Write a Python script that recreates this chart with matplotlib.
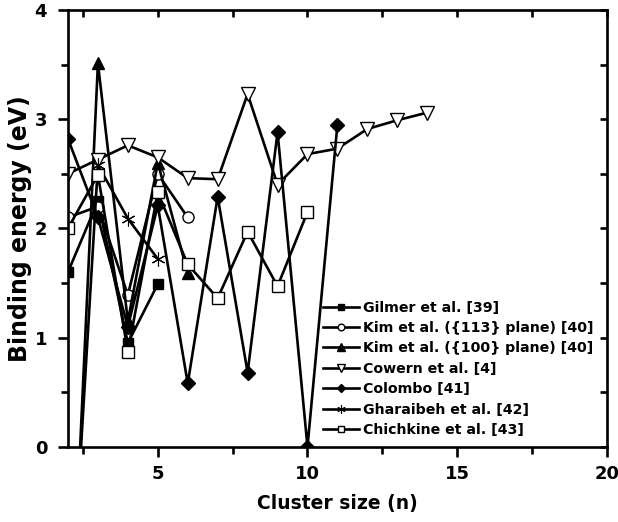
import matplotlib
matplotlib.use("Agg")
import matplotlib.pyplot as plt
from matplotlib.ticker import MultipleLocator

plt.rcParams['font.family'] = ['DejaVu Sans']
plt.rcParams['font.weight'] = 'bold'

# cluster sizes and binding energies (eV)
gilmer_n = [2, 3, 4, 5]
gilmer_e = [1.6, 2.25, 0.95, 1.49]

kim113_n = [2, 3, 4, 5, 6]
kim113_e = [2.1, 2.2, 1.39, 2.5, 2.1]

kim100_n = [2, 3, 4, 5, 6]
kim100_e = [-2.4, 3.51, 1.15, 2.6, 1.59]

cowern_n = [2, 3, 4, 5, 6, 7, 8, 9, 10, 11, 12, 13, 14]
cowern_e = [2.5, 2.63, 2.76, 2.65, 2.46, 2.45, 3.23, 2.4, 2.68, 2.73, 2.91, 2.99, 3.06]

colombo_n = [2, 3, 4, 5, 6, 7, 8, 9, 10, 11]
colombo_e = [2.82, 2.1, 1.1, 2.21, 0.58, 2.29, 0.68, 2.88, 0.0, 2.95]

gharaibeh_n = [2, 3, 4, 5]
gharaibeh_e = [-2.0, 2.58, 2.09, 1.72]

chichkine_n = [2, 3, 4, 5, 6, 7, 8, 9, 10]
chichkine_e = [2.0, 2.49, 0.87, 2.33, 1.67, 1.36, 1.97, 1.47, 2.15]

fig = plt.figure(figsize=(6.18, 5.22), dpi=100)
ax = fig.add_axes([0.110, 0.144, 0.872, 0.837])

lw = 1.9
ms = 8
ax.plot(gilmer_n, gilmer_e, '-s', color='black', lw=lw, ms=ms-1, mfc='black', label='Gilmer et al. [39]')
ax.plot(kim113_n, kim113_e, '-o', color='black', lw=lw, ms=ms, mfc='white', label='Kim et al. ({113} plane) [40]')
ax.plot(kim100_n, kim100_e, '-^', color='black', lw=lw, ms=ms+1, mfc='black', label='Kim et al. ({100} plane) [40]')
ax.plot(cowern_n, cowern_e, '-v', color='black', lw=lw, ms=ms+2, mfc='white', label='Cowern et al. [4]')
ax.plot(colombo_n, colombo_e, '-D', color='black', lw=lw, ms=ms-1, mfc='black', label='Colombo [41]')
ax.plot(gharaibeh_n, gharaibeh_e, '-', color='black', lw=lw, marker=(6, 2, 0), ms=ms+2, mew=0.8, label='Gharaibeh et al. [42]')
ax.plot(chichkine_n, chichkine_e, '-s', color='black', lw=lw, ms=ms, mfc='white', label='Chichkine et al. [43]')

ax.set_xlim(2, 20)
ax.set_ylim(0, 4)
ax.xaxis.set_major_locator(MultipleLocator(5))
ax.xaxis.set_minor_locator(MultipleLocator(2.5))
ax.yaxis.set_major_locator(MultipleLocator(1))
ax.yaxis.set_minor_locator(MultipleLocator(0.5))

for s in ax.spines.values():
    s.set_linewidth(1.9)
ax.tick_params(which='major', direction='out', length=7, width=1.9, labelsize=13)
ax.tick_params(axis='x', which='major', pad=6)
ax.tick_params(axis='y', which='major', pad=8)
ax.tick_params(which='minor', direction='out', length=5, width=1.9)

top = ax.secondary_xaxis('top')
top.xaxis.set_major_locator(MultipleLocator(2.5))
top.tick_params(direction='in', length=5, width=1.9, labeltop=False)
right = ax.secondary_yaxis('right')
right.yaxis.set_major_locator(MultipleLocator(0.5))
right.tick_params(direction='in', length=5, width=1.9, labelright=False)

ax.set_xlabel('Cluster size (n)', fontsize=13.5, fontweight='bold', labelpad=8)
ax.set_ylabel('Binding energy (eV)', fontsize=17, fontweight='bold', labelpad=2)

leg = ax.legend(loc='lower left', bbox_to_anchor=(0.455, 0.0), frameon=False,
                fontsize=10.2, handlelength=2.5, handletextpad=0.3, labelspacing=0.45,
                markerscale=0.6, borderpad=0.2)
for t in leg.get_texts():
    t.set_fontweight('bold')

fig.savefig('out.png', dpi=100)
